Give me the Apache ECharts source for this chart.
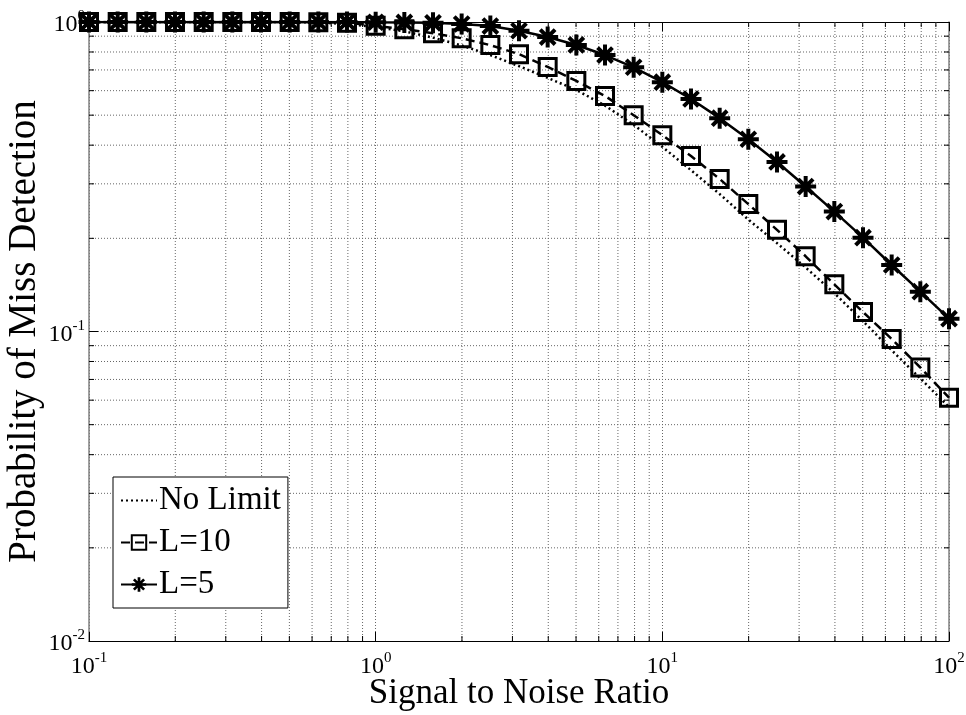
<!DOCTYPE html>
<html>
<head>
<meta charset="utf-8">
<script src="https://cdn.jsdelivr.net/npm/echarts@6/dist/echarts.min.js"></script>
<style>
  html, body { margin: 0; padding: 0; background: #fff; }
  #chart { width: 966px; height: 715px; }
</style>
</head>
<body>
<div id="chart"></div>
<script>
// SNR sample points (10 per decade)
var snr = [0.1, 0.1259, 0.1585, 0.1995, 0.2512, 0.3162, 0.3981, 0.5012, 0.631, 0.7943,
  1, 1.259, 1.585, 1.995, 2.512, 3.162, 3.981, 5.012, 6.31, 7.943,
  10, 12.59, 15.85, 19.95, 25.12, 31.62, 39.81, 50.12, 63.1, 79.43, 100];

// probability of miss detection
var noLimit = [1, 1, 1, 1, 1, 1, 1, 0.999, 0.996, 0.985,
  0.963, 0.933, 0.89, 0.84, 0.782, 0.72, 0.66, 0.603, 0.537, 0.465,
  0.395, 0.332, 0.278, 0.23, 0.193, 0.161, 0.133, 0.108, 0.087, 0.0705, 0.057];
var l10 = [1, 1, 1, 1, 1, 1, 1, 1, 0.999, 0.995,
  0.972, 0.948, 0.92, 0.886, 0.842, 0.787, 0.716, 0.645, 0.577, 0.5,
  0.431, 0.369, 0.311, 0.258, 0.213, 0.175, 0.142, 0.1156, 0.0946, 0.0765, 0.0611];
var l5 = [1, 1, 1, 1, 1, 1, 1, 1, 1, 1,
  0.998, 0.997, 0.994, 0.985, 0.97, 0.937, 0.894, 0.843, 0.782, 0.714,
  0.639, 0.564, 0.489, 0.418, 0.353, 0.294, 0.244, 0.201, 0.164, 0.1345, 0.110];

// minor grid positions (log axes)
var xMinor = [0.2, 0.3, 0.4, 0.5, 0.6, 0.7, 0.8, 0.9,
  2, 3, 4, 5, 6, 7, 8, 9,
  20, 30, 40, 50, 60, 70, 80, 90];
var yMinor = [0.02, 0.03, 0.04, 0.05, 0.06, 0.07, 0.08, 0.09,
  0.2, 0.3, 0.4, 0.5, 0.6, 0.7, 0.8, 0.9];

var xMin = 0.1, xMax = 100, yMin = 0.01, yMax = 1;
var FONT = 'Liberation Serif';

// asterisk marker, 8 arms
var starPath = 'path://M8.1,0L11.9,0L11.9,20L8.1,20Z' +
  'M0,8.1L20,8.1L20,11.9L0,11.9Z' +
  'M4.27,1.58L18.42,15.73L15.73,18.42L1.58,4.27Z' +
  'M4.27,18.42L1.58,15.73L15.73,1.58L18.42,4.27Z';

function pair(xs, ys) {
  return xs.map(function (x, i) { return [x, ys[i]]; });
}

function powLabel(v) {
  var e = Math.round(Math.log10(v));
  return '{b|10}{s|' + e + '}';
}

var labelRich = {
  b: { fontFamily: FONT, fontSize: 24, color: '#000', lineHeight: 30, verticalAlign: 'bottom' },
  s: { fontFamily: FONT, fontSize: 15, color: '#000', lineHeight: 30, verticalAlign: 'top', padding: [2, 0, 0, 0] }
};

var gridDash = { color: '#666', width: 1, type: [1, 2] };

function minorX(params, api) {
  var v = api.value(0);
  var p0 = api.coord([v, yMin]);
  var p1 = api.coord([v, yMax]);
  return {
    type: 'group',
    children: [
      { type: 'line', shape: { x1: p0[0], y1: p0[1], x2: p1[0], y2: p1[1] },
        style: { stroke: gridDash.color, lineWidth: 1, lineDash: gridDash.type } },
      { type: 'line', shape: { x1: p0[0], y1: p0[1], x2: p0[0], y2: p0[1] - 5 },
        style: { stroke: '#000', lineWidth: 1 } },
      { type: 'line', shape: { x1: p1[0], y1: p1[1], x2: p1[0], y2: p1[1] + 5 },
        style: { stroke: '#000', lineWidth: 1 } }
    ]
  };
}

function minorY(params, api) {
  var v = api.value(1);
  var p0 = api.coord([xMin, v]);
  var p1 = api.coord([xMax, v]);
  return {
    type: 'group',
    children: [
      { type: 'line', shape: { x1: p0[0], y1: p0[1], x2: p1[0], y2: p1[1] },
        style: { stroke: gridDash.color, lineWidth: 1, lineDash: gridDash.type } },
      { type: 'line', shape: { x1: p0[0], y1: p0[1], x2: p0[0] + 5, y2: p0[1] },
        style: { stroke: '#000', lineWidth: 1 } },
      { type: 'line', shape: { x1: p1[0], y1: p1[1], x2: p1[0] - 5, y2: p1[1] },
        style: { stroke: '#000', lineWidth: 1 } }
    ]
  };
}

var chart = echarts.init(document.getElementById('chart'), null, { renderer: 'canvas' });

var option = {
  animation: false,
  backgroundColor: '#fff',
  grid: { left: 89, right: 17, top: 22, bottom: 74, containLabel: false, outerBoundsMode: 'none' },
  legend: {
    data: [
      { name: 'No Limit', itemStyle: { opacity: 0 } },
      { name: 'L=10' },
      { name: 'L=5' }
    ],
    orient: 'vertical',
    left: 113,
    top: 477,
    padding: [7, 7, 7, 7],
    itemGap: 9,
    itemWidth: 36,
    itemHeight: 18,
    backgroundColor: '#fff',
    borderColor: '#000',
    borderWidth: 1,
    borderRadius: 0,
    textStyle: { fontFamily: FONT, fontSize: 33, color: '#000', padding: [0, 0, 0, -3] }
  },
  xAxis: [{
    type: 'log',
    logBase: 10,
    min: xMin,
    max: xMax,
    name: 'Signal to Noise Ratio',
    nameLocation: 'middle',
    nameGap: 35,
    nameMoveOverlap: false,
    nameTextStyle: { fontFamily: FONT, fontSize: 35, color: '#000' },
    axisLine: { lineStyle: { color: '#000', width: 1 } },
    axisTick: { inside: true, length: 9, lineStyle: { color: '#000' } },
    axisLabel: { margin: 8, formatter: powLabel, rich: labelRich },
    splitLine: { show: true, lineStyle: gridDash }
  }, {
    type: 'log',
    logBase: 10,
    min: xMin,
    max: xMax,
    position: 'top',
    axisLine: { lineStyle: { color: '#000', width: 1 } },
    axisTick: { inside: true, length: 9, lineStyle: { color: '#000' } },
    axisLabel: { show: false },
    splitLine: { show: false }
  }],
  yAxis: [{
    type: 'log',
    logBase: 10,
    min: yMin,
    max: yMax,
    name: 'Probability of Miss Detection',
    nameLocation: 'middle',
    nameGap: 45,
    nameMoveOverlap: false,
    nameTextStyle: { fontFamily: FONT, fontSize: 39, color: '#000' },
    axisLine: { lineStyle: { color: '#808080', width: 1.5 } },
    axisTick: { inside: true, length: 9, lineStyle: { color: '#000' } },
    axisLabel: { margin: 4, formatter: powLabel, rich: labelRich },
    splitLine: { show: true, lineStyle: gridDash }
  }, {
    type: 'log',
    logBase: 10,
    min: yMin,
    max: yMax,
    position: 'right',
    axisLine: { lineStyle: { color: '#808080', width: 1.5 } },
    axisTick: { inside: true, length: 9, lineStyle: { color: '#000' } },
    axisLabel: { show: false },
    splitLine: { show: false }
  }],
  series: [{
    name: 'minorX',
    type: 'custom',
    z: 1,
    silent: true,
    renderItem: minorX,
    data: xMinor.map(function (v) { return [v, yMax]; })
  }, {
    name: 'minorY',
    type: 'custom',
    z: 1,
    silent: true,
    renderItem: minorY,
    data: yMinor.map(function (v) { return [xMin, v]; })
  }, {
    name: 'No Limit',
    type: 'line',
    data: pair(snr, noLimit),
    symbol: 'none',
    z: 3,
    lineStyle: { color: '#000', width: 2.5, type: [2, 3] },
    itemStyle: { color: '#000' }
  }, {
    name: 'L=10',
    type: 'line',
    data: pair(snr, l10),
    symbol: 'rect',
    symbolSize: 17,
    z: 4,
    lineStyle: { color: '#000', width: 2.5, type: [9, 5] },
    itemStyle: { color: 'rgba(255,255,255,0)', borderColor: '#000', borderWidth: 3 }
  }, {
    name: 'L=5',
    type: 'line',
    data: pair(snr, l5),
    symbol: starPath,
    symbolSize: 21,
    z: 5,
    lineStyle: { color: '#000', width: 2.5 },
    itemStyle: { color: '#000' }
  }]
};

chart.setOption(option);
</script>
</body>
</html>
